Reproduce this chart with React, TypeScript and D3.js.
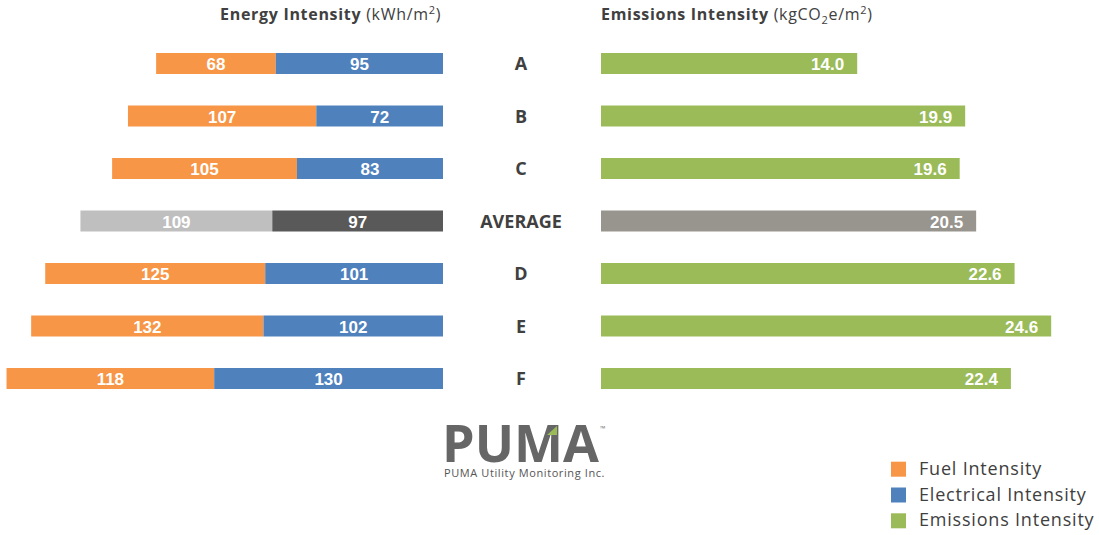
import React from 'react';
import * as d3 from 'd3';

const categories = ['A', 'B', 'C', 'AVERAGE', 'D', 'E', 'F'];
const fuel = [68, 107, 105, 109, 125, 132, 118];
const electrical = [95, 72, 83, 97, 101, 102, 130];
const emissions = [14.0, 19.9, 19.6, 20.5, 22.6, 24.6, 22.4];
const legendLabels = ['Fuel Intensity', 'Electrical Intensity', 'Emissions Intensity'];

const W = 1099;
const H = 535;
const ORANGE = '#F79646';
const BLUE = '#4F81BD';
const GREEN = '#9BBB59';
const TEXT = '#404040';

const App = () => {
  const y = d3.scaleBand<string>()
    .domain(categories)
    .range([37.25, 404.75])
    .paddingInner(0.6)
    .paddingOuter(0.3);

  // left chart grows leftwards from the centre column
  const xLeft = d3.scaleLinear().domain([0, 250]).range([443, 443 - 250 * 1.76]);
  const xRight = d3.scaleLinear().domain([0, 25]).range([601, 601 + 25 * 18.3]);

  const bh = y.bandwidth();
  const legendColors = [ORANGE, BLUE, GREEN];

  return (
    <svg width={W} height={H} style={{ position: 'absolute', left: 0, top: 0 }}>
      {/* titles */}
      <text x={220} y={20} fontFamily="'Open Sans', sans-serif" fontSize={16} letterSpacing={0.7} fill={TEXT}>
        <tspan fontWeight={700}>Energy Intensity</tspan>
        <tspan> (kWh/m</tspan>
        <tspan fontSize={11} dy={-6}>2</tspan>
        <tspan dy={6}>)</tspan>
      </text>
      <text x={601} y={20} fontFamily="'Open Sans', sans-serif" fontSize={16} letterSpacing={0.7} fill={TEXT}>
        <tspan fontWeight={700}>Emissions Intensity</tspan>
        <tspan> (kgCO</tspan>
        <tspan fontSize={11} dy={4}>2</tspan>
        <tspan dy={-4}>e/m</tspan>
        <tspan fontSize={11} dy={-6}>2</tspan>
        <tspan dy={6}>)</tspan>
      </text>

      {categories.map((c, i) => {
        const avg = c === 'AVERAGE';
        const y0 = y(c) as number;
        const cy = y0 + bh / 2;
        const xe = xLeft(electrical[i]);
        const xf = xLeft(electrical[i] + fuel[i]);
        const xr = xRight(emissions[i]);
        return (
          <g key={c}>
            <rect x={xf} y={y0} width={xe - xf} height={bh} fill={avg ? '#BFBFBF' : ORANGE} />
            <rect x={xe} y={y0} width={xLeft(0) - xe} height={bh} fill={avg ? '#595959' : BLUE} />
            <text x={(xf + xe) / 2} y={cy + 6.5} textAnchor="middle" fill="#fff"
              fontFamily="'Liberation Sans', Arial, sans-serif" fontWeight={700} fontSize={17}>{fuel[i]}</text>
            <text x={(xe + xLeft(0)) / 2} y={cy + 6.5} textAnchor="middle" fill="#fff"
              fontFamily="'Liberation Sans', Arial, sans-serif" fontWeight={700} fontSize={17}>{electrical[i]}</text>

            <text x={521} y={cy + 6.5} textAnchor="middle" fill={TEXT}
              fontFamily="'Open Sans', sans-serif" fontWeight={700} fontSize={18}>{c}</text>

            <rect x={xRight(0)} y={y0} width={xr - xRight(0)} height={bh} fill={avg ? '#98958E' : GREEN} />
            <text x={xr - 13} y={cy + 6.5} textAnchor="end" fill="#fff"
              fontFamily="'Liberation Sans', Arial, sans-serif" fontWeight={700} fontSize={17}>{emissions[i].toFixed(1)}</text>
          </g>
        );
      })}

      {/* logo */}
      <g>
        <text x={442} y={462} fontFamily="'Open Sans', sans-serif" fontWeight={700} fontSize={52} fill="#666666">PUMA</text>
        <polygon points="557,426 557,435 547,435" fill="#9BBB59" />
        <text x={600} y={431} fontFamily="'Open Sans', sans-serif" fontSize={7} fill="#777">™</text>
        <text x={444} y={477} fontFamily="'Open Sans', sans-serif" fontSize={11} fill="#555" letterSpacing={0.6}>PUMA Utility Monitoring Inc.</text>
      </g>

      {/* legend */}
      {legendLabels.map((l, i) => (
        <g key={l} transform={`translate(891,${461.7 + i * 25.8})`}>
          <rect width={15} height={15} fill={legendColors[i]} />
          <text x={28} y={13} fontFamily="'Open Sans', sans-serif" fontSize={18} letterSpacing={0.8} fill={TEXT}>{l}</text>
        </g>
      ))}
    </svg>
  );
};

export default App;
